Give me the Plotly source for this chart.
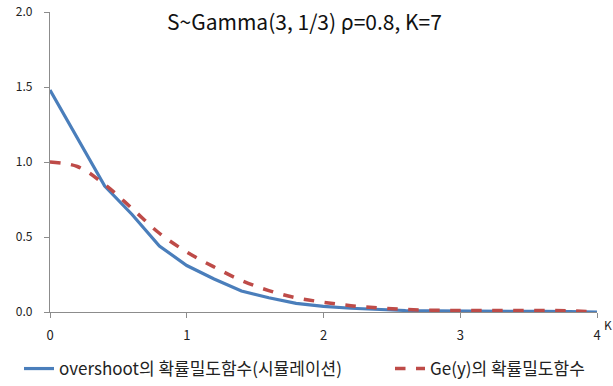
import plotly.graph_objects as go

x_vals = [0.0, 0.2, 0.4, 0.6, 0.8, 1.0, 1.2, 1.4, 1.6, 1.8, 2.0,
          2.2, 2.4, 2.6, 2.8, 3.0, 3.2, 3.4, 3.6, 3.8, 4.0]
overshoot_sim = [1.48, 1.16, 0.84, 0.65, 0.44, 0.31, 0.22, 0.14, 0.095, 0.058, 0.037,
                 0.025, 0.015, 0.01, 0.007, 0.005, 0.004, 0.004, 0.004, 0.003, 0.0]
ge_y = [1.0, 0.97, 0.85, 0.69, 0.525, 0.40, 0.30, 0.21, 0.143, 0.095, 0.065,
        0.042, 0.027, 0.017, 0.012, 0.01, 0.01, 0.01, 0.01, 0.008, 0.0]

title_text = "S~Gamma(3, 1/3) ρ=0.8, K=7"
name_sim = "overshoot의 확률밀도함수(시뮬레이션)"
name_ge = "Ge(y)의 확률밀도함수"
x_ticks = [0, 1, 2, 3, 4]
y_ticks = [0.0, 0.5, 1.0, 1.5, 2.0]

FONT = "Noto Sans CJK KR, Noto Sans, sans-serif"

fig = go.Figure()
fig.add_trace(go.Scatter(x=x_vals, y=overshoot_sim, mode="lines", name=name_sim,
                         line=dict(color="#4a7ebb", width=3.2), legend="legend"))
fig.add_trace(go.Scatter(x=x_vals, y=ge_y, mode="lines", name=name_ge,
                         line=dict(color="#be4b48", width=3.5, dash="dash", shape="spline"),
                         legend="legend2"))

W, H = 613, 386
L, R, T, B = 50, 16, 12, 74
pw = W - L - R
ph = H - T - B

leg_common = dict(orientation="h", xref="container", yref="container",
                  xanchor="left", yanchor="top", y=1 - 351 / H,
                  font=dict(family=FONT, size=17, color="#222"),
                  itemwidth=30, bgcolor="rgba(0,0,0,0)")

fig.update_layout(
    width=W, height=H,
    margin=dict(l=L, r=R, t=T, b=B, autoexpand=False),
    paper_bgcolor="white", plot_bgcolor="white",
    font=dict(family=FONT, size=12, color="#222"),
    showlegend=True,
    legend=dict(x=19 / W, **leg_common),
    legend2=dict(x=390 / W, **leg_common),
    annotations=[
        dict(text=title_text, x=(304 - L) / pw, y=1 - (21 - T) / ph, xref="paper", yref="paper",
             xanchor="center", yanchor="middle", showarrow=False,
             font=dict(family=FONT, size=21, color="#111")),
        dict(text="K", x=4, y=0, xref="x", yref="y", xanchor="left", yanchor="top",
             xshift=5, yshift=-2, showarrow=False,
             font=dict(family=FONT, size=12, color="#222")),
    ],
)

fig.update_xaxes(range=[0, 4], tickvals=x_ticks, ticktext=[str(v) for v in x_ticks],
                 automargin=False,
                 showgrid=False, zeroline=False, showline=True, linecolor="#8c8c8c", linewidth=1.3,
                 ticks="outside", ticklen=5, tickcolor="#8c8c8c", tickfont=dict(size=13),
                 ticklabelstandoff=6)
fig.update_yaxes(range=[0, 2.0], tickvals=y_ticks, ticktext=[f"{v:.1f}" for v in y_ticks],
                 automargin=False,
                 showgrid=False, zeroline=False, showline=True, linecolor="#8c8c8c", linewidth=1.3,
                 ticks="outside", ticklen=5, tickcolor="#8c8c8c", tickfont=dict(size=12),
                 ticklabelstandoff=9)

fig.write_html("out.html", config={"displayModeBar": False},
               post_script="document.body.style.margin='0';document.body.style.overflow='hidden';")
